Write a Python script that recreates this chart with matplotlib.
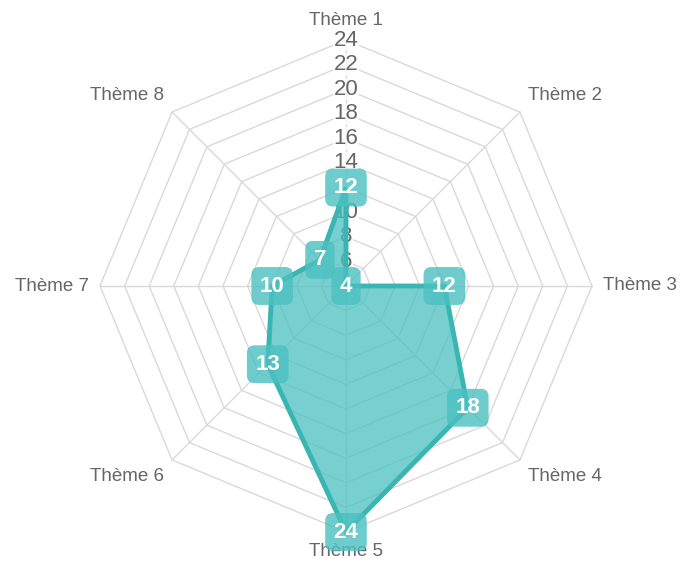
import numpy as np
import matplotlib
matplotlib.use("Agg")
import matplotlib.pyplot as plt
from matplotlib.patches import Polygon

themes = ["Thème 1", "Thème 2", "Thème 3", "Thème 4", "Thème 5", "Thème 6", "Thème 7", "Thème 8"]
values = [12, 4, 12, 18, 24, 13, 10, 7]
r_min, r_max = 4, 24
ticks = [6, 8, 10, 12, 14, 16, 18, 20, 22, 24]

plt.rcParams['font.family'] = ['Liberation Sans', 'DejaVu Sans']

W, H = 681, 562
fig = plt.figure(figsize=(W / 100, H / 100), dpi=100)
ax = fig.add_axes([0, 0, 1, 1])
ax.set_axis_off()

# scale: px per unit value
cx, cy, R = 346, 286, 246
s = R / (r_max - r_min)
ax.set_xlim(-cx / s, (W - cx) / s)
ax.set_ylim(-(H - cy) / s, cy / s)

n = len(themes)
ang = np.arange(n) * 2 * np.pi / n  # clockwise from top


def xy(i, v):
    r = v - r_min
    return r * np.sin(ang[i]), r * np.cos(ang[i])


grid_c = "#d9d9d9"
# rings
for t in ticks:
    pts = [xy(i, t) for i in range(n)]
    ax.add_patch(Polygon(pts, closed=True, fill=False, ec=grid_c, lw=1, zorder=1))
# spokes
for i in range(n):
    x0, y0 = xy(i, r_min)
    x1, y1 = xy(i, r_max)
    ax.plot([x0, x1], [y0, y1], color=grid_c, lw=1, zorder=1)

# data
pts = [xy(i, v) for i, v in enumerate(values)]
ax.add_patch(Polygon(pts, closed=True, fc=(75/255, 192/255, 192/255, 0.75),
                     ec=(58/255, 182/255, 178/255), lw=3.5, joinstyle='miter', zorder=3))

# tick labels
for t in ticks:
    x, y = xy(0, t)
    ax.text(x, y, str(t), ha='center', va='center', fontsize=16, color='#666666', zorder=2,
            bbox=dict(boxstyle='square,pad=0.03', fc=(1, 1, 1, 0.75), ec='none'))

# point labels
off = 11 / s
for i, name in enumerate(themes):
    r = r_max - r_min + off
    x, y = r * np.sin(ang[i]), r * np.cos(ang[i])
    a = np.degrees(ang[i]) % 360
    if a in (0, 180):
        ha = 'center'
    elif a < 180:
        ha = 'left'
    else:
        ha = 'right'
    if a in (90, 270):
        va = 'center'
    elif a < 90 or a > 270:
        va = 'bottom'
    else:
        va = 'top'
    ax.text(x, y, name, ha=ha, va=va, fontsize=13.5, color='#666666', zorder=2)

# data labels
for i, v in enumerate(values):
    x, y = xy(i, v)
    ax.text(x, y, str(v), ha='center', va='center', fontsize=16, fontweight='bold',
            color='white', zorder=5,
            bbox=dict(boxstyle='round,pad=0.38,rounding_size=0.35',
                      fc=(75/255, 192/255, 192/255, 0.8), ec='none'))

fig.savefig("out.png", dpi=100)
